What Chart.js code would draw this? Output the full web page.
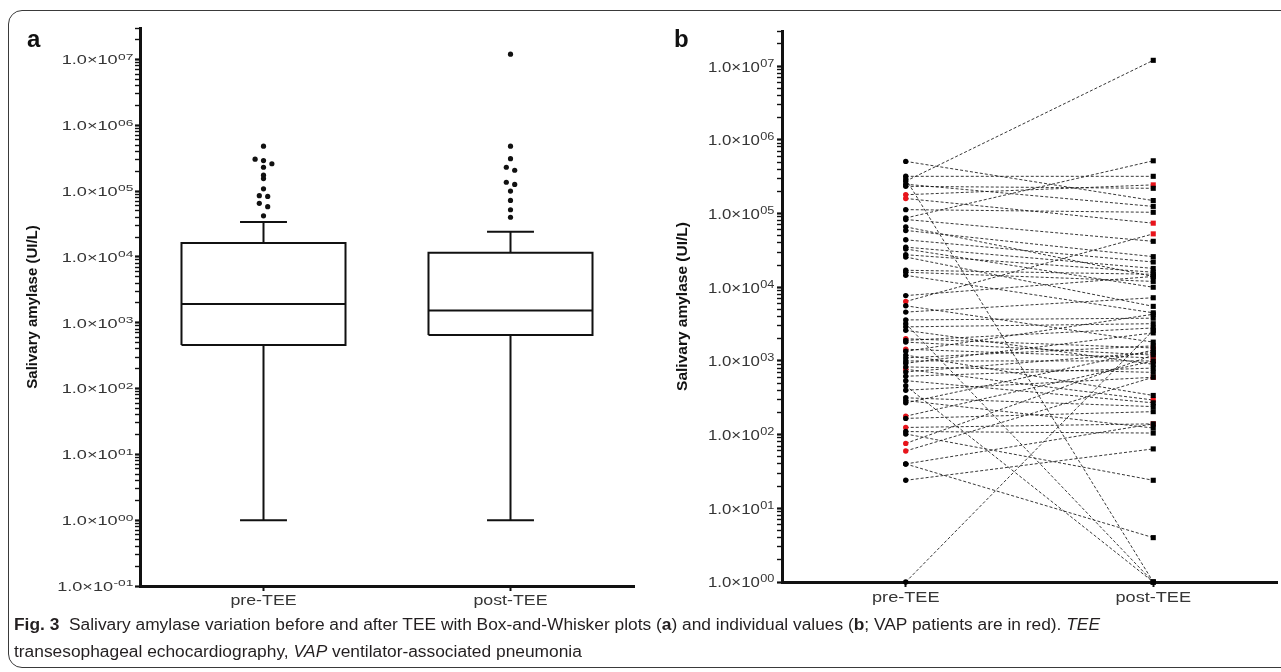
<!DOCTYPE html>
<html><head><meta charset="utf-8">
<script src="https://cdn.jsdelivr.net/npm/chart.js@4.4.1/dist/chart.umd.min.js"></script>
<style>
html,body{margin:0;padding:0;background:#fff;width:1281px;height:672px;overflow:hidden;font-family:'Liberation Sans',Arial,sans-serif;}
#frame{position:absolute;left:8px;top:10px;width:1320px;height:658px;border:1px solid #3a3a3a;border-radius:14px;box-sizing:border-box;}
.wrap{position:absolute;top:0;height:620px;}
#wa{left:0;width:640px;}
#wb{left:640px;width:641px;}
.letter{position:absolute;top:27px;font:bold 24px/24px 'Liberation Sans',Arial,sans-serif;color:#111;}
#cap{position:absolute;left:14px;top:611px;font-family:'Liberation Sans Narrow','Liberation Sans',sans-serif;font-size:16px;color:#231f20;line-height:27px;white-space:nowrap;transform-origin:0 0;}
#cap div{white-space:nowrap;}
#cap span.l1{display:inline-block;}
</style></head>
<body>
<div id="frame"></div>
<div class="wrap" id="wa"><canvas id="ca"></canvas></div>
<div class="wrap" id="wb"><canvas id="cb"></canvas></div>
<div class="letter" style="left:27px">a</div>
<div class="letter" style="left:674px">b</div>
<div id="cap">
<div><span class="l1" id="line1"><b>Fig. 3</b>&nbsp; Salivary amylase variation before and after TEE with Box-and-Whisker plots (<b>a</b>) and individual values (<b>b</b>; VAP patients are in red). <i>TEE</i></span></div>
<div>transesophageal echocardiography, <i>VAP</i> ventilator-associated pneumonia</div>
</div>
<script>
// ---------- data ----------
const categories = ['pre-TEE', 'post-TEE'];
const axisTitle = 'Salivary amylase (UI/L)';

const tickMantissa = '1.0×10';
const tickValuesA = [0.1, 1, 10, 100, 1000, 10000, 100000, 1000000, 10000000];
const tickExpA    = ['-01', '00', '01', '02', '03', '04', '05', '06', '07'];
const tickValuesB = [1, 10, 100, 1000, 10000, 100000, 1000000, 10000000];
const tickExpB    = ['00', '01', '02', '03', '04', '05', '06', '07'];

// panel a: box-and-whisker summary (pre, post)
const boxLow    = [1, 1];
const boxQ1     = [457, 650];
const boxMedian = [1930, 1530];
const boxQ3     = [16200, 11600];
const boxHigh   = [34000, 24000];
const preOutliers  = [480000, 305000, 290000, 260000, 230000, 174000, 155000, 108000, 85000, 83000, 65000, 58000, 42000];
const postOutliers = [12000000, 480000, 310000, 230000, 207000, 136000, 126000, 100000, 72000, 52000, 40000];

// panel b: individual paired values (pre, post) and VAP flag (1 = VAP, red)
const pairPre  = [510000,320000,295000,275000,250000,234000,180000,160000,113000,87000,83000,66000,59000,44000,35000,33000,27600,25700,17000,16000,14500,7700,6400,5600,4600,3600,3200,2900,2600,2000,1900,1800,1440,1350,1200,1100,1000,930,830,770,710,620,540,460,400,316,290,270,178,166,125,110,102,76,60,40,40,24,1];
const pairPost = [150000,320000,1,12000000,125000,220000,245000,74000,104000,520000,42000,14000,26000,22000,18000,10000,16000,5500,15000,12000,4500,14000,53000,1800,7200,3800,1,3200,900,1500,2800,1200,1100,4300,340,1600,1000,2400,700,295,1300,800,270,1,600,240,123,1400,1000,205,140,105,24,1200,600,4,140,64,2600];
const pairVap  = [0,0,0,0,0,0,1,1,0,0,0,0,0,0,0,0,0,0,0,0,0,0,1,0,0,0,0,0,0,1,0,0,1,0,0,0,0,0,0,1,0,0,0,0,0,0,0,0,1,0,1,0,0,1,1,0,0,0,0];

// ---------- helpers ----------
const FAMILY = "'Liberation Sans', Arial, sans-serif";
const INK = '#111';
const LABEL_INK = '#353535';

function logTicks(min, max) {
  const t = [];
  for (let e = Math.floor(Math.log10(min)); e <= Math.ceil(Math.log10(max)); e++) {
    for (let m = 1; m < 10; m++) {
      const v = m * Math.pow(10, e);
      if (v >= min * 0.999 && v <= max * 1.001) t.push({value: v, major: m === 1});
    }
  }
  return t;
}
function jitter(values, center, step) {
  const idx = values.map((v, i) => i).sort((a, b) => values[b] - values[a]);
  const groups = [];
  idx.forEach(i => {
    const g = groups[groups.length - 1];
    if (g && Math.abs(Math.log10(values[g[g.length - 1]]) - Math.log10(values[i])) < 0.05) g.push(i);
    else groups.push([i]);
  });
  const pts = [];
  groups.forEach(g => g.forEach((i, k) => pts.push({x: center + (k - (g.length - 1) / 2) * step, y: values[i]})));
  return pts;
}

// draws the axis labels (with superscript exponents), horizontally widened like the figure
const axisLabelPlugin = {
  id: 'axisLabels',
  afterDraw(chart, args, o) {
    const ctx = chart.ctx, ys = chart.scales.y, xs = chart.scales.x;
    ctx.save();
    ctx.fillStyle = LABEL_INK;
    ctx.textBaseline = 'alphabetic';
    const f = o.yFont, sf = f * 0.76;
    o.values.forEach((v, i) => {
      const py = ys.getPixelForValue(v);
      ctx.font = f + 'px ' + FAMILY;
      const wb = ctx.measureText(tickMantissa).width;
      ctx.font = sf + 'px ' + FAMILY;
      const we = ctx.measureText(o.exps[i]).width;
      const total = (wb + we) * o.sx;
      ctx.save();
      ctx.translate(ys.right - o.gap - total, py);
      ctx.scale(o.sx, 1);
      ctx.font = f + 'px ' + FAMILY;
      ctx.textAlign = 'left';
      ctx.fillText(tickMantissa, 0, f * 0.39);
      ctx.font = sf + 'px ' + FAMILY;
      ctx.fillText(o.exps[i], wb + 0.3, f * 0.03);
      ctx.restore();
    });
    categories.forEach((c, i) => {
      const px = xs.getPixelForValue(i + 1);
      ctx.save();
      ctx.translate(px, xs.top + o.xBase);
      ctx.scale(o.xsx, 1);
      ctx.font = o.xFont + 'px ' + FAMILY;
      ctx.textAlign = 'center';
      ctx.fillText(c, 0, 0);
      ctx.restore();
    });
    ctx.restore();
  }
};

function yScale(min, max, width, titlePad, titleSize) {
  return {
    type: 'logarithmic', min: min, max: max,
    border: {display: true, width: 3, color: INK},
    grid: {drawOnChartArea: false, drawTicks: true, tickLength: 5,
      tickColor: INK, tickWidth: c => (c.tick && c.tick.major) ? 2.2 : 1.4},
    ticks: {display: false, autoSkip: false},
    afterBuildTicks: s => { s.ticks = logTicks(min, max); },
    afterFit: s => { s.width = width; s.paddingTop = 0; s.paddingBottom = 0; },
    title: {display: true, text: axisTitle, color: INK,
      font: {family: FAMILY, size: titleSize, weight: 'bold'}, padding: {top: titlePad, bottom: 0}}
  };
}
function xScale() {
  return {
    type: 'linear', min: 0.5, max: 2.5,
    border: {display: true, width: 3, color: INK},
    grid: {drawOnChartArea: false, drawTicks: true, tickLength: 5, tickColor: INK, tickWidth: 2},
    ticks: {display: false, autoSkip: false},
    afterBuildTicks: s => { s.ticks = categories.map((c, i) => ({value: i + 1})); },
    afterFit: s => { s.height = 30; s.paddingLeft = 0; s.paddingRight = 0; }
  };
}
function baseOpts(labelOpts) {
  return {
    responsive: true, maintainAspectRatio: false, animation: false, events: [],
    plugins: {legend: {display: false}, tooltip: {enabled: false}, axisLabels: labelOpts}
  };
}

// ---------- panel a ----------
const dsA = [];
const BW = 0.332, CW = 0.095;
categories.forEach((c, i) => {
  const cx = i + 1;
  const lineDs = (data) => ({type: 'scatter', data: data, showLine: true, borderColor: INK, borderWidth: 2,
    pointRadius: 0, tension: 0, fill: false, clip: false, borderJoinStyle: 'miter'});
  dsA.push(lineDs([{x: cx - BW, y: boxQ1[i]}, {x: cx + BW, y: boxQ1[i]}, {x: cx + BW, y: boxQ3[i]}, {x: cx - BW, y: boxQ3[i]}, {x: cx - BW, y: boxQ1[i]}]));
  dsA.push(lineDs([{x: cx - BW, y: boxMedian[i]}, {x: cx + BW, y: boxMedian[i]}]));
  dsA.push(lineDs([{x: cx, y: boxQ3[i]}, {x: cx, y: boxHigh[i]}]));
  dsA.push(lineDs([{x: cx - CW, y: boxHigh[i]}, {x: cx + CW, y: boxHigh[i]}]));
  dsA.push(lineDs([{x: cx, y: boxQ1[i]}, {x: cx, y: boxLow[i]}]));
  dsA.push(lineDs([{x: cx - CW, y: boxLow[i]}, {x: cx + CW, y: boxLow[i]}]));
  const outs = i === 0 ? preOutliers : postOutliers;
  dsA.push({type: 'scatter', data: jitter(outs, cx, 0.034), pointRadius: 2.6, pointBackgroundColor: INK,
    pointBorderWidth: 0, showLine: false, clip: false});
});
const optsA = baseOpts({values: tickValuesA, exps: tickExpA, yFont: 12.5, sx: 1.45, gap: 7, xFont: 14, xsx: 1.27, xBase: 19});
optsA.layout = {padding: {left: 0, right: 6, top: 28, bottom: 4}};
optsA.scales = {x: xScale(), y: yScale(0.1, 3e7, 140, 24, 15)};
new Chart(document.getElementById('ca'), {type: 'scatter', data: {datasets: dsA}, options: optsA, plugins: [axisLabelPlugin]});

// ---------- panel b ----------
const dsB = [];
pairPre.forEach((p, i) => {
  dsB.push({type: 'line', data: [{x: 1, y: p}, {x: 2, y: pairPost[i]}], borderColor: 'rgba(20,20,20,0.85)',
    borderWidth: 1, borderDash: [3, 2], pointRadius: 0, tension: 0, fill: false, clip: false, order: 2});
});
const ordIdx = pairPre.map((v, i) => i).sort((a, b) => pairVap[b] - pairVap[a]);
const colorOf = i => pairVap[i] ? '#e8141b' : '#000';
dsB.push({type: 'scatter', data: ordIdx.map(i => ({x: 1, y: pairPre[i]})), pointRadius: 2.7,
  pointStyle: 'circle', pointBackgroundColor: ordIdx.map(colorOf), pointBorderWidth: 0, clip: false, order: 0});
dsB.push({type: 'scatter', data: ordIdx.map(i => ({x: 2, y: pairPost[i]})), pointRadius: 3.6,
  pointStyle: 'rect', pointBackgroundColor: ordIdx.map(colorOf), pointBorderWidth: 0, clip: false, order: 0});
const optsB = baseOpts({values: tickValuesB, exps: tickExpB, yFont: 14, sx: 1.2, gap: 8, xFont: 14.5, xsx: 1.25, xBase: 20});
optsB.layout = {padding: {left: 0, right: 3, top: 31, bottom: 8}};
optsB.scales = {x: xScale(), y: yScale(1, 3e7, 142, 33, 15.5)};
new Chart(document.getElementById('cb'), {type: 'scatter', data: {datasets: dsB}, options: optsB, plugins: [axisLabelPlugin]});

// ---------- caption width fit ----------
(function () {
  const w = document.getElementById('line1').getBoundingClientRect().width;
  document.getElementById('cap').style.transform = 'scaleX(' + (1086 / w) + ')';
})();
</script>
</body></html>
